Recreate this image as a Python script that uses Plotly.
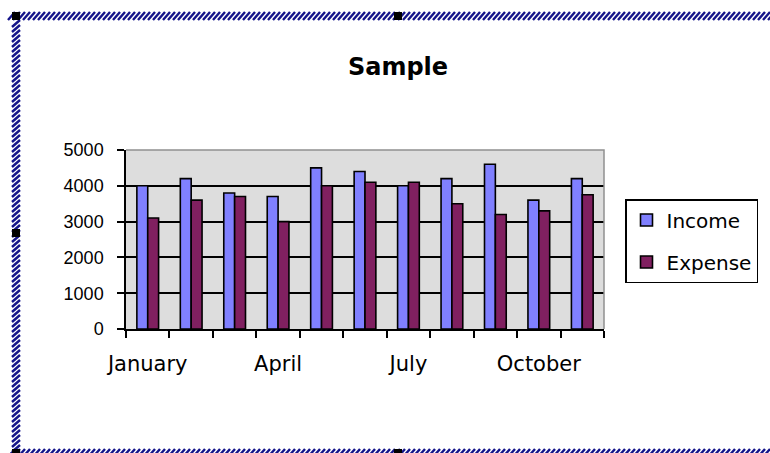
import plotly.graph_objects as go

# Monthly figures
months = ["January", "February", "March", "April", "May", "June",
          "July", "August", "September", "October", "November"]
income = [4000, 4200, 3800, 3700, 4500, 4400, 4000, 4200, 4600, 3600, 4200]
expense = [3100, 3600, 3700, 3000, 4000, 4100, 4100, 3500, 3200, 3300, 3750]
# Only every third month is labelled on the category axis
month_labels = ["January", "", "", "April", "", "", "July", "", "", "October", ""]
y_ticks = [0, 1000, 2000, 3000, 4000, 5000]

W, H = 770, 453
ML, MR, MT, MB = 126, 166, 150, 124
PW, PH = W - ML - MR, H - MT - MB


def fx(px):
    """Pixel column -> paper x."""
    return (px - ML) / PW


def fy(py):
    """Pixel row -> paper y."""
    return 1 - (py - MT) / PH


fig = go.Figure()
fig.add_trace(go.Bar(
    x=months, y=income, name="Income", legendgroup="inc",
    marker=dict(color="#8080FF", line=dict(color="black", width=1.6)),
))
fig.add_trace(go.Bar(
    x=months, y=expense, name="Expense", legendgroup="exp",
    marker=dict(color="#802060", line=dict(color="black", width=1.6)),
))

shapes = []
# grey plot-area frame on the top and right edges
shapes.append(dict(type="path", xref="paper", yref="paper", layer="above",
                   path="M 0 1 L 1 1 L 1 0",
                   line=dict(color="#909090", width=1.5)))

# hatched selection frame around the chart object
navy = "#14148A"
segs = []
x0 = 8
while x0 < W + 10:
    # top band
    segs.append(f"M {fx(x0):.5f} {fy(20):.5f} L {fx(x0 + 7):.5f} {fy(12):.5f}")
    # bottom band
    segs.append(f"M {fx(x0):.5f} {fy(457):.5f} L {fx(x0 + 7):.5f} {fy(449):.5f}")
    x0 += 5
y0 = 20
while y0 < H + 10:
    segs.append(f"M {fx(12):.5f} {fy(y0 + 7):.5f} L {fx(20):.5f} {fy(y0):.5f}")
    y0 += 5
shapes.append(dict(type="path", xref="paper", yref="paper", layer="above",
                   path=" ".join(segs), line=dict(color=navy, width=2.4)))

# sizing handles
for (hx, hy) in [(12, 12), (394, 12), (12, 229), (394, 449), (12, 449)]:
    shapes.append(dict(type="rect", xref="paper", yref="paper", layer="above",
                       x0=fx(hx), x1=fx(hx + 8), y0=fy(hy + 8), y1=fy(hy),
                       line=dict(width=0), fillcolor="black"))

fig.update_layout(
    width=W, height=H,
    margin=dict(l=ML, r=MR, t=MT, b=MB),
    paper_bgcolor="white",
    plot_bgcolor="#DDDDDD",
    barmode="group",
    bargap=0.5,
    bargroupgap=0,
    title=dict(text="<b>Sample</b>", x=398 / W, xref="container", xanchor="center",
               y=1 - 67 / H, yref="container", yanchor="middle",
               font=dict(family="DejaVu Sans", size=24, color="black")),
    font=dict(family="DejaVu Sans", color="black"),
    legend=dict(x=fx(625), y=fy(199), xanchor="left", yanchor="top",
                bgcolor="white", bordercolor="black", borderwidth=1.5,
                font=dict(family="DejaVu Sans", size=20, color="black"),
                tracegroupgap=13, traceorder="grouped"),
    shapes=shapes,
)

fig.update_xaxes(
    type="category",
    tickmode="array", tickvals=months, ticktext=month_labels,
    tickson="boundaries", tickangle=0,
    ticks="outside", ticklen=7, tickcolor="black", tickwidth=1.5,
    showline=True, linecolor="black", linewidth=1.5,
    showgrid=False,
    tickfont=dict(family="DejaVu Sans", size=21, color="black"),
    ticklabelstandoff=15,
)
fig.update_yaxes(
    range=[0, 5000],
    tickmode="array", tickvals=y_ticks,
    ticks="outside", ticklen=7, tickcolor="black", tickwidth=1.5,
    showline=True, linecolor="black", linewidth=1.5,
    showgrid=True, gridcolor="black", gridwidth=1.5,
    zeroline=False,
    tickfont=dict(family="Liberation Sans", size=18, color="black"),
    ticklabelstandoff=10,
)

fig.write_html("out.html")
